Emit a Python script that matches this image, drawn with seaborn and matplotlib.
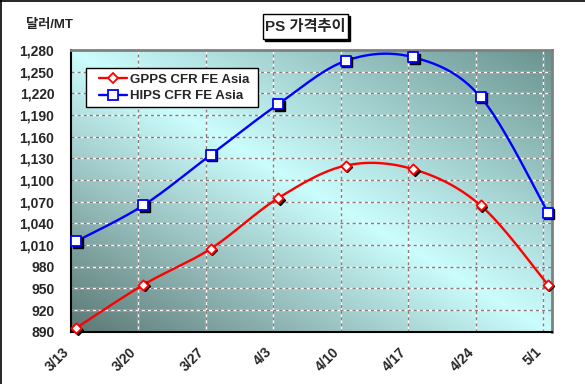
import numpy as np
import pandas as pd
import matplotlib
matplotlib.use('Agg')
import matplotlib.pyplot as plt
import matplotlib.transforms as mtransforms
from matplotlib.colors import LinearSegmentedColormap
from matplotlib.lines import Line2D
from matplotlib.patches import Rectangle
import seaborn as sns

# 주간 가격 (달러/MT)
dates = ['3/13', '3/20', '3/27', '4/3', '4/10', '4/17', '4/24', '5/1']
gpps = [895, 955, 1005, 1075, 1120, 1115, 1065, 955]
hips = [1015, 1065, 1135, 1205, 1265, 1270, 1215, 1055]
series_names = ['GPPS CFR FE Asia', 'HIPS CFR FE Asia']
colors = ['#ff0000', '#0000ff']
markers = ['D', 's']
yticks = list(range(890, 1281, 30))

df = pd.DataFrame({'pos': np.arange(len(dates)),
                   series_names[0]: gpps, series_names[1]: hips})
long = df.melt(id_vars='pos', var_name='series', value_name='price')


def smooth(x, y, n=24):
    # 엑셀식 부드러운 선 (베지어 곡선)
    x = np.asarray(x, float)
    y = np.asarray(y, float)
    p = np.column_stack([x, y])
    p = np.vstack([p[:1], p, p[-1:]])
    t = np.linspace(0, 1, n)[:, None]
    out = []
    for i in range(len(x) - 1):
        p0, p3 = p[i + 1], p[i + 2]
        c1 = p0 + (p3 - p[i]) / 6
        c2 = p3 - (p[i + 3] - p0) / 6
        out.append((1 - t) ** 3 * p0 + 3 * (1 - t) ** 2 * t * c1
                   + 3 * (1 - t) * t ** 2 * c2 + t ** 3 * p3)
    out = np.vstack(out)
    return out[:, 0], out[:, 1]


curves = []
for name in series_names:
    cx, cy = smooth(df['pos'], df[name])
    curves.append(pd.DataFrame({'x': cx, 'y': cy, 'series': name}))
curve_df = pd.concat(curves, ignore_index=True)

sns.set_style('white')
plt.rcParams['font.family'] = ['Liberation Sans', 'Noto Sans CJK KR', 'DejaVu Sans']
plt.rcParams['font.weight'] = 'bold'

fig = plt.figure(figsize=(5.85, 3.84), dpi=100)
ax = fig.add_axes([0.1214, 0.1362, 0.8222, 0.7336])

x0, x1 = -0.074, 7.06
y0, y1 = 890, 1280
ax.set_xlim(x0, x1)
ax.set_ylim(y0, y1)

# 배경 그라데이션
u, v = np.meshgrid(np.linspace(0, 1, 300), np.linspace(0, 1, 300))
cmap = LinearSegmentedColormap.from_list('bg', ['#5b7875', '#cbfdfd', '#6a938f'])
ax.imshow((u + v) / 2, extent=(x0, x1, y0, y1), origin='lower', aspect='auto',
          cmap=cmap, vmin=0, vmax=1, zorder=0, interpolation='bicubic')

# 눈금선
grid_x = np.arange(len(dates)) - 0.074
for y in yticks[1:-1]:
    ax.axhline(y, color='white', lw=1, zorder=1)
    ax.axhline(y, color='#808080', lw=1, dashes=(2.2, 2.2), zorder=1.1)
for gx in grid_x[1:]:
    ax.axvline(gx, color='white', lw=1, zorder=1)
    ax.axvline(gx, color='#808080', lw=1, dashes=(2.2, 2.2), zorder=1.1)

palette = dict(zip(series_names, colors))
sns.lineplot(data=curve_df, x='x', y='y', hue='series', palette=palette,
             sort=False, estimator=None, legend=False, lw=1.7, ax=ax, zorder=3)

# 마커 그림자
shift = mtransforms.ScaledTranslation(1.5 / 100, -1.5 / 100, fig.dpi_scale_trans)
sizes = [5.2, 6.5]
for name, m, ms in zip(series_names, markers, sizes):
    ax.plot(df['pos'], df[name], ls='none', marker=m, ms=ms, color='black',
            mec='black', transform=ax.transData + shift, zorder=4, clip_on=False)

# 마커
for name, m, ms, c in zip(series_names, markers, sizes, colors):
    sns.scatterplot(data=long[long['series'] == name], x='pos', y='price',
                    marker=m, s=ms ** 2, color='white', edgecolor=c, linewidth=1.3,
                    legend=False, ax=ax, zorder=5, clip_on=False)

ax.set_xlabel('')
ax.set_ylabel('')
ax.set_yticks(yticks)
ax.set_yticklabels([f'{y:,}' for y in yticks], fontsize=10, fontweight='bold')
ax.set_xticks(grid_x)
ax.set_xticklabels(dates, fontsize=10, fontweight='bold', rotation=45,
                   ha='right', va='center', rotation_mode='anchor')
ax.tick_params(axis='y', length=0, pad=12)
ax.tick_params(axis='x', direction='in', length=3, width=1.2, pad=13, color='black')
lab_shift = mtransforms.ScaledTranslation(-4 / 100, 0, fig.dpi_scale_trans)
for lab in ax.get_xticklabels():
    lab.set_transform(lab.get_transform() + lab_shift)

for side in ['left', 'bottom']:
    ax.spines[side].set_color('black')
    ax.spines[side].set_linewidth(1.5)
for side in ['top', 'right']:
    ax.spines[side].set_color('#808080')
    ax.spines[side].set_linewidth(2)

# 범례
fig.add_artist(Rectangle((86 / 585, 1 - 107 / 384), 172 / 585, 39 / 384,
                         transform=fig.transFigure, facecolor='white',
                         edgecolor='black', lw=1, zorder=6))
handles = [Line2D([], [], color=c, lw=1.7, marker=m, ms=ms, mfc='white', mec=c, mew=1.3)
           for c, m, ms in zip(colors, markers, sizes)]
leg = fig.legend(handles, series_names, loc='center left',
                 bbox_to_anchor=(99 / 585, 1 - 88 / 384), bbox_transform=fig.transFigure,
                 borderaxespad=0, frameon=False, fontsize=9.5,
                 handlelength=2.1, handletextpad=0.25, labelspacing=0.3,
                 borderpad=0)
leg.set_zorder(7)
for t in leg.get_texts():
    t.set_fontweight('bold')

# 제목 상자
fig.add_artist(Rectangle((265 / 585, 1 - 41 / 384), 85 / 585, 25 / 384,
                         transform=fig.transFigure, facecolor='black', edgecolor='black'))
fig.add_artist(Rectangle((263 / 585, 1 - 39 / 384), 85 / 585, 25 / 384,
                         transform=fig.transFigure, facecolor='white', edgecolor='black', lw=1))
fig.text(305.5 / 585, 1 - 26.5 / 384, 'PS 가격추이', ha='center', va='center',
         fontsize=11, fontweight='bold')
fig.text(49 / 585, 1 - 25 / 384, '달러/MT', ha='center', va='center',
         fontsize=9.5, fontweight='bold')

# 차트 외곽선
fig.add_artist(Line2D([0.5 / 585, 0.5 / 585], [0, 1], transform=fig.transFigure,
                      color='black', lw=1.2))
fig.add_artist(Line2D([0, 1], [1 - 0.5 / 384, 1 - 0.5 / 384], transform=fig.transFigure,
                      color='black', lw=1.2))

fig.savefig('out.png', dpi=100)
